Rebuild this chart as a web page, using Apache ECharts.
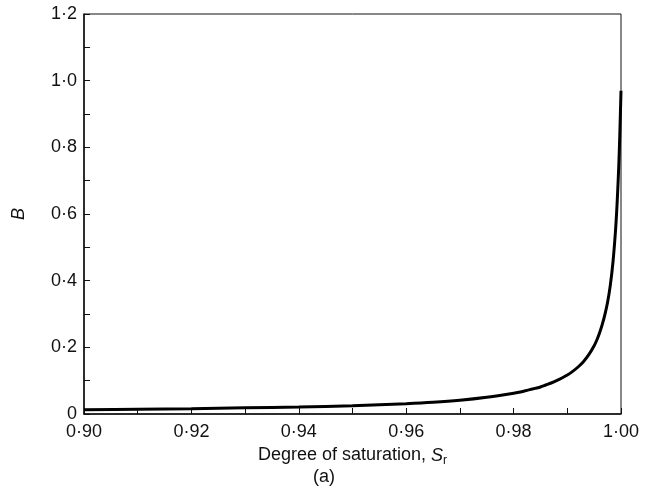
<!DOCTYPE html>
<html>
<head>
<meta charset="utf-8">
<script src="https://cdn.jsdelivr.net/npm/echarts@6/dist/echarts.min.js"></script>
<style type="text/css">
html, body { margin: 0; padding: 0; background: #fff; }
</style>
</head>
<body>
<div id="chart" style="width:648px; height:492px;"></div>
<script type="text/javascript">
// degree of saturation Sr
var satur = [0.900, 0.910, 0.920, 0.930, 0.940, 0.950, 0.960, 0.965, 0.970, 0.975,
             0.980, 0.981, 0.982, 0.983, 0.984, 0.985, 0.986, 0.987, 0.988, 0.989,
             0.990, 0.991, 0.992, 0.993, 0.994, 0.995, 0.9955, 0.996, 0.9965, 0.997,
             0.9975, 0.998, 0.9985, 0.999, 0.9993, 0.9996, 0.9998, 1.000];
// pore pressure coefficient B
var bValues = [0.013, 0.0145, 0.016, 0.0185, 0.021, 0.025, 0.031, 0.035, 0.041, 0.050,
               0.062, 0.065, 0.069, 0.073, 0.077, 0.081, 0.087, 0.093, 0.100, 0.108,
               0.117, 0.128, 0.141, 0.157, 0.178, 0.205, 0.222, 0.243, 0.268, 0.298,
               0.335, 0.385, 0.455, 0.555, 0.640, 0.750, 0.850, 0.970];

var xName = 'Degree of saturation, ';
var yName = 'B';
var caption = '(a)';

var points = [];
for (var i = 0; i < satur.length; i++) {
    points.push([satur[i], bValues[i]]);
}

// 0.9 -> "0·90", like the printed figure
function dotLabel(v, digits) {
    if (Math.abs(v) < 1e-9) return '0';
    return v.toFixed(digits).replace('.', '\u00b7');
}

var font = 'Liberation Sans, Arial, sans-serif';
var myChart = echarts.init(document.getElementById('chart'));
var option = {
    animation: false,
    backgroundColor: '#fff',
    title: {
        text: caption,
        left: 'center',
        top: 463,
        textStyle: { fontFamily: font, fontSize: 18, fontWeight: 'normal', color: '#111' }
    },
    grid: {
        left: 84, right: 27, top: 14, bottom: 78,
        show: true,
        borderColor: '#111',
        borderWidth: 1
    },
    xAxis: {
        type: 'value',
        min: 0.90,
        max: 1.00,
        interval: 0.02,
        name: '{n|' + xName + '}{i|S}{s|r}',
        nameLocation: 'middle',
        nameGap: 30,
        nameTextStyle: {
            rich: {
                n: { fontFamily: font, fontSize: 18, color: '#111' },
                i: { fontFamily: font, fontSize: 18, fontStyle: 'italic', color: '#111' },
                s: { fontFamily: font, fontSize: 12, color: '#111', padding: [11, 0, 0, 0] }
            }
        },
        axisLine: { lineStyle: { color: '#111', width: 1.5 } },
        axisTick: { inside: true, length: 6, lineStyle: { color: '#111', width: 1 } },
        minorTick: { show: true, splitNumber: 2, length: 6, lineStyle: { color: '#111', width: 1 } },
        axisLabel: {
            fontFamily: font, fontSize: 18, color: '#111', margin: 9,
            formatter: function (v) { return dotLabel(v, 2); }
        },
        splitLine: { show: false }
    },
    yAxis: {
        type: 'value',
        min: 0,
        max: 1.2,
        interval: 0.2,
        name: yName,
        nameLocation: 'middle',
        nameGap: 56,
        nameTextStyle: { fontFamily: font, fontSize: 18, fontStyle: 'italic', color: '#111' },
        axisLine: { lineStyle: { color: '#111', width: 1.5 } },
        axisTick: { inside: true, length: 6, lineStyle: { color: '#111', width: 1 } },
        minorTick: { show: true, splitNumber: 2, length: 6, lineStyle: { color: '#111', width: 1 } },
        axisLabel: {
            fontFamily: font, fontSize: 18, color: '#111', margin: 7,
            formatter: function (v) { return dotLabel(v, 1); }
        },
        splitLine: { show: false }
    },
    series: [
        {
            type: 'line',
            data: points,
            smooth: 0.3,
            showSymbol: false,
            lineStyle: { color: '#000', width: 3 }
        }
    ]
};
myChart.setOption(option);
</script>
</body>
</html>
